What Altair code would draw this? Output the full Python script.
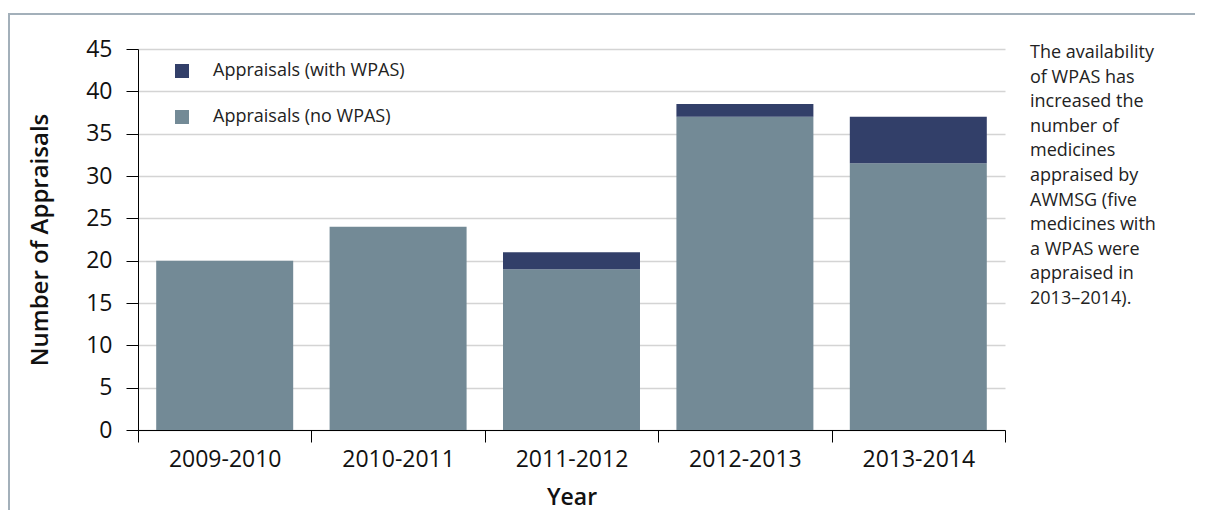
import altair as alt
import pandas as pd

years = ["2009-2010", "2010-2011", "2011-2012", "2012-2013", "2013-2014"]
no_wpas = [20, 24, 19, 37, 31.5]
with_wpas = [0, 0, 2, 1.5, 5.5]
series = ["Appraisals (with WPAS)", "Appraisals (no WPAS)"]
colors = ["#323f69", "#738a96"]
note_lines = [
    "The availability",
    "of WPAS has",
    "increased the",
    "number of",
    "medicines",
    "appraised by",
    "AWMSG (five",
    "medicines with",
    "a WPAS were",
    "appraised in",
    "2013\u20132014).",
]

rows = []
for y, a, b in zip(years, no_wpas, with_wpas):
    rows.append({"Year": y, "Series": series[1], "Value": a, "ord": 0})
    rows.append({"Year": y, "Series": series[0], "Value": b, "ord": 1})
df = pd.DataFrame(rows)

W, H = 867, 381
FONT = "Open Sans"

bars = alt.Chart(df).mark_bar(width=alt.RelativeBandSize(0.79)).encode(
    x=alt.X("Year:N", sort=years,
            scale=alt.Scale(paddingInner=0, paddingOuter=0),
            axis=alt.Axis(title="Year", labelAngle=0, tickBand="extent",
                          labelFontSize=23, labelPadding=6, titleFontSize=23,
                          titleFontWeight=600, titlePadding=15, tickSize=12,
                          grid=False)),
    y=alt.Y("Value:Q", stack="zero",
            scale=alt.Scale(domain=[0, 45], nice=False),
            axis=alt.Axis(title="Number of Appraisals", values=list(range(0, 50, 5)),
                          labelFontSize=23, labelPadding=14, titleFontSize=24,
                          titleFontWeight=600, titlePadding=33, tickSize=12,
                          grid=True)),
    color=alt.Color("Series:N",
                    scale=alt.Scale(domain=series, range=colors),
                    legend=alt.Legend(title=None, orient="none", legendX=35, legendY=13,
                                      symbolType="square", symbolSize=196,
                                      symbolStrokeWidth=0, labelFontSize=18,
                                      labelFont=FONT, labelColor="#222222",
                                      labelLimit=0, rowPadding=28, labelOffset=22)),
    order=alt.Order("ord:Q"),
)

note = alt.Chart(pd.DataFrame({"t": ["\n".join(note_lines)]})).mark_text(
    align="left", baseline="top", font=FONT, fontSize=18, lineHeight=24.6,
    color="#222222", lineBreak="\n",
).encode(text="t:N", x=alt.value(892), y=alt.value(-5))

frame = alt.Chart(pd.DataFrame({"a": [0]})).mark_rect(
    fill=None, stroke="#a3b0ba", strokeWidth=2, clip=False,
).encode(x=alt.value(-129), x2=alt.value(2000), y=alt.value(-35), y2=alt.value(2000))

chart = alt.layer(frame, bars, note).properties(
    width=W, height=H,
    autosize=alt.AutoSizeParams(type="none"),
    padding={"left": 130, "top": 41, "right": 190, "bottom": 80},
).configure_view(stroke=None).configure_axis(
    labelFont=FONT, titleFont=FONT, labelColor="#111111", titleColor="#111111",
    domainColor="#000000", tickColor="#000000", domainWidth=1, tickWidth=1,
    gridColor="#d4d4d4", gridWidth=1.5,
)

chart.save("out.html", embed_options={"renderer": "svg", "actions": False})
